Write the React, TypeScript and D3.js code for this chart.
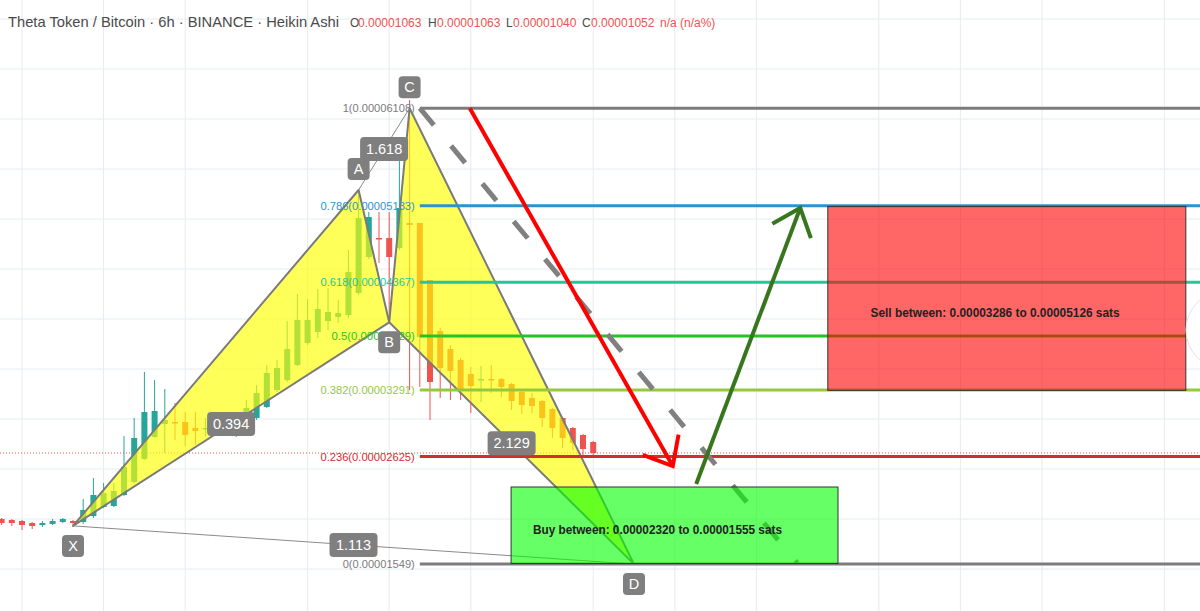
import React from 'react';
import * as d3 from 'd3';

const W = 1200;
const H = 611;

// Heikin Ashi candles, prices in satoshi (1e-8 BTC)
const candleOpen = [2000,1990,1980,1960,1940,1950,1970,1980,1970,2030,2120,2130,2240,2370,2600,2820,2950,2970,2970,2910,2900,2910,2920,2930,2990,3010,3120,3290,3390,3540,3760,3870,3980,4020,4040,4260,4620,4810,4810,4710,4960,4960,4390,3880,3700,3590,3450,3390,3400,3400,3350,3270,3210,3180,3100,3010,2910,2840,2770];
const candleClose = [1960,1960,1940,1930,1960,1980,2000,1960,2090,2240,2260,2280,2520,2810,3070,3080,2990,2960,2840,2880,2910,2930,2950,2990,3110,3260,3460,3510,3700,3990,3990,4100,4070,4060,4470,5010,5020,4800,4620,5110,4940,3820,3370,3510,3480,3290,3330,3400,3390,3320,3180,3140,3130,3010,2910,2810,2760,2700,2660];
const candleHigh = [2010,2000,1990,1970,1980,2000,2010,1990,2200,2410,2360,2360,2830,3010,3470,3390,3300,3160,3070,3070,3010,3020,3040,3070,3190,3340,3540,3590,3980,4250,4200,4300,4310,4190,4690,5270,5070,5070,5070,5690,6190,4960,4390,3910,3740,3610,3520,3530,3540,3410,3360,3280,3260,3190,3110,3020,2920,2850,2780];
const candleLow = [1940,1930,1890,1900,1920,1940,1960,1940,1950,2010,2110,2120,2230,2360,2590,2810,2660,2790,2730,2740,2830,2870,2890,2820,2940,2990,3110,3270,3370,3530,3740,3810,3890,3960,4010,4240,4600,4560,4000,4690,3290,3320,2990,3210,3190,3190,3060,3170,3260,3220,3090,3050,3060,2920,2810,2710,2690,2640,2610];

// grid
const gridTimeIdx = [2, 10, 18, 30, 38, 46, 58, 66, 74, 86, 94, 102, 114];
const gridPrices = [1500, 2000, 2500, 3000, 3500, 4000, 4500, 5000, 5500, 6000, 6500, 7000];
const lastPrice = 2660;

// XABCD pattern
const patternNames = ['X', 'A', 'B', 'C', 'D'];
const patternIdx = [7, 35, 38, 40, 62];
const patternPrice = [1931, 5290, 3967, 6108, 1549];
const patternBelow = [true, false, true, false, true];
const ratioLabels = ['0.394', '1.618', '2.129', '1.113'];
const ratioPairs = [[0, 2], [1, 3], [2, 4], [0, 4]];

// Fibonacci retracement
const fibRatios = ['1', '0.786', '0.618', '0.5', '0.382', '0.236', '0'];
const fibPrices = [6108, 5133, 4367, 3829, 3291, 2625, 1549];
const fibColors = ['#7c7c7c', '#2d93cf', '#26c698', '#25c425', '#95c93a', '#cf2f2f', '#7c7c7c'];
const fibStartIdx = 41;

// drawings: [idx, price]
const dashedLine = [[41, 6108], [78, 1560]];
const redArrow = [[45.9, 6108], [65.8, 2530]];
const greenArrow = [[68.1, 2350], [78.3, 5110]];
const sellBox = [[81, 5126], [116.1, 3286]];
const buyBox = [[49.95, 2320], [82, 1555]];
const sellTextAt = [97.4, 4060];
const buyTextAt = [64.3, 1890];
const sellText = 'Sell between: 0.00003286 to 0.00005126 sats';
const buyText = 'Buy between: 0.00002320 to 0.00001555 sats';

const titleText = 'Theta Token / Bitcoin · 6h · BINANCE · Heikin Ashi';
const ohlcKeys = ['O', 'H', 'L', 'C'];
const ohlcValues = ['0.00001063', '0.00001063', '0.00001040', '0.00001052'];
const changeText = 'n/a (n/a%)';

const x = d3.scaleLinear().domain([0, 1]).range([1.6, 11.8]);
const y = d3.scaleLinear().domain([1500, 7000]).range([569, 19]);

const TEAL = '#26a69a';
const RED = '#ef5350';
const FONT = "'Liberation Sans', Arial, sans-serif";

function arrowHead(p0: number[], p1: number[]) {
  const x0 = x(p0[0]), y0 = y(p0[1]), x1 = x(p1[0]), y1 = y(p1[1]);
  const ang = Math.atan2(y0 - y1, x0 - x1);
  const len = 32;
  const a1 = ang + (40 * Math.PI) / 180;
  const a2 = ang - (40 * Math.PI) / 180;
  return `M${x1 + len * Math.cos(a1)},${y1 + len * Math.sin(a1)} L${x1},${y1} L${x1 + len * Math.cos(a2)},${y1 + len * Math.sin(a2)}`;
}

function Label({ cx, cy, text, w, h }: { cx: number; cy: number; text: string; w: number; h: number }) {
  return (
    <g>
      <rect x={cx - w / 2} y={cy - h / 2} width={w} height={h} rx={4} fill="#7f7f7f" />
      <text x={cx} y={cy + 5} textAnchor="middle" fill="#ffffff" fontSize={14.5} fontFamily={FONT}>{text}</text>
    </g>
  );
}

export default function App() {
  const pts = patternIdx.map((d, i) => [x(d), y(patternPrice[i])]);
  const line = d3.line();
  const triXAB = line([pts[0], pts[1], pts[2]]) + 'Z';
  const triBCD = line([pts[2], pts[3], pts[4]]) + 'Z';

  const ohlcX = [350, 428, 506, 582];
  const ohlcValX = [358, 437, 513, 591];

  return (
    <svg width={W} height={H} style={{ position: 'absolute', left: 0, top: 0, background: '#fff' }}>
      <rect x={0} y={0} width={W} height={H} fill="#ffffff" />
      {/* grid */}
      {gridTimeIdx.map((g) => (
        <line key={'gv' + g} x1={x(g)} x2={x(g)} y1={0} y2={H} stroke="#e6ecf1" strokeWidth={1} />
      ))}
      {gridPrices.map((p) => (
        <line key={'gh' + p} x1={0} x2={W} y1={y(p)} y2={y(p)} stroke="#e6ecf1" strokeWidth={1} />
      ))}
      {/* last price line */}
      <line x1={0} x2={W} y1={y(lastPrice)} y2={y(lastPrice)} stroke={RED} strokeWidth={1} strokeDasharray="1 2" />

      {/* candles */}
      {candleOpen.map((o, i) => {
        const c = candleClose[i];
        const col = c >= o ? TEAL : RED;
        const top = y(Math.max(o, c));
        const bot = y(Math.min(o, c));
        return (
          <g key={'c' + i}>
            <line x1={x(i)} x2={x(i)} y1={y(candleHigh[i])} y2={y(candleLow[i])} stroke={col} strokeWidth={1} />
            <rect x={x(i) - 3} y={top} width={6} height={Math.max(1.5, bot - top)} fill={col} />
          </g>
        );
      })}

      {/* pattern */}
      <path d={triXAB} fill="rgba(255,255,0,0.65)" stroke="#7a7a7a" strokeWidth={2} strokeLinejoin="round" />
      <path d={triBCD} fill="rgba(255,255,0,0.65)" stroke="#7a7a7a" strokeWidth={2} strokeLinejoin="round" />
      <line x1={pts[0][0]} y1={pts[0][1]} x2={pts[4][0]} y2={pts[4][1]} stroke="#8a8a8a" strokeWidth={1} />
      <line x1={pts[1][0]} y1={pts[1][1]} x2={pts[3][0]} y2={pts[3][1]} stroke="#8a8a8a" strokeWidth={1} />

      {/* fib levels */}
      {fibPrices.map((p, i) => (
        <g key={'f' + i}>
          <line x1={x(fibStartIdx)} x2={W} y1={y(p)} y2={y(p)} stroke={fibColors[i]} strokeWidth={3} />
          <text x={x(fibStartIdx) - 5} y={y(p) + 4} textAnchor="end" fill={fibColors[i]} fontSize={11.5} fontFamily={FONT}
            textLength={(fibRatios[i].length + 12) * 5.55} lengthAdjust="spacingAndGlyphs">
            {`${fibRatios[i]}(${(p / 1e8).toFixed(8)})`}
          </text>
        </g>
      ))}

      {/* dashed line */}
      <line x1={x(dashedLine[0][0])} y1={y(dashedLine[0][1])} x2={x(dashedLine[1][0])} y2={y(dashedLine[1][1])}
        stroke="#808080" strokeWidth={5} strokeDasharray="22 27" />

      {/* red arrow */}
      <line x1={x(redArrow[0][0])} y1={y(redArrow[0][1])} x2={x(redArrow[1][0])} y2={y(redArrow[1][1])} stroke="#ff0000" strokeWidth={4} />
      <path d={arrowHead(redArrow[0], redArrow[1])} fill="none" stroke="#ff0000" strokeWidth={4} />
      {/* green arrow */}
      <line x1={x(greenArrow[0][0])} y1={y(greenArrow[0][1])} x2={x(greenArrow[1][0])} y2={y(greenArrow[1][1])} stroke="#38761d" strokeWidth={4} />
      <path d={arrowHead(greenArrow[0], greenArrow[1])} fill="none" stroke="#38761d" strokeWidth={4} />

      {/* sell box */}
      <rect x={x(sellBox[0][0])} y={y(sellBox[0][1])} width={x(sellBox[1][0]) - x(sellBox[0][0])} height={y(sellBox[1][1]) - y(sellBox[0][1])}
        fill="rgba(255,0,0,0.6)" stroke="#333" strokeWidth={1} />
      <text x={x(sellTextAt[0])} y={y(sellTextAt[1]) + 4} textAnchor="middle"
        fontSize={12.5} fontWeight="bold" fontFamily={FONT} fill="#222" textLength={249} lengthAdjust="spacingAndGlyphs">{sellText}</text>
      {/* buy box */}
      <rect x={x(buyBox[0][0])} y={y(buyBox[0][1])} width={x(buyBox[1][0]) - x(buyBox[0][0])} height={y(buyBox[1][1]) - y(buyBox[0][1])}
        fill="rgba(0,255,0,0.6)" stroke="#333" strokeWidth={1} />
      <text x={x(buyTextAt[0])} y={y(buyTextAt[1]) + 4} textAnchor="middle"
        fontSize={12.5} fontWeight="bold" fontFamily={FONT} fill="#222" textLength={249} lengthAdjust="spacingAndGlyphs">{buyText}</text>

      {/* ratio labels */}
      {ratioPairs.map((pr, i) => (
        <Label key={'r' + i} cx={(pts[pr[0]][0] + pts[pr[1]][0]) / 2} cy={(pts[pr[0]][1] + pts[pr[1]][1]) / 2}
          text={ratioLabels[i]} w={48} h={24} />
      ))}
      {/* point labels */}
      {patternNames.map((n, i) => (
        <Label key={'p' + i} cx={pts[i][0]} cy={pts[i][1] + (patternBelow[i] ? 20 : -21)} text={n} w={22} h={22} />
      ))}

      {/* right edge button */}
      <circle cx={1225} cy={330} r={39} fill="#ffffff" stroke="#e3e3e3" strokeWidth={1} />

      {/* header */}
      <text x={8} y={27} fontSize={15} fontFamily={FONT} fill="#4a4a4a" textLength={331} lengthAdjust="spacingAndGlyphs">{titleText}</text>
      {ohlcKeys.map((k, i) => (
        <g key={'o' + k}>
          <text x={ohlcX[i]} y={27} fontSize={12} fontFamily={FONT} fill="#4a4a4a">{k}</text>
          <text x={ohlcValX[i]} y={27} fontSize={12} fontFamily={FONT} fill={RED}>{ohlcValues[i]}</text>
        </g>
      ))}
      <text x={660} y={27} fontSize={12} fontFamily={FONT} fill={RED}>{changeText}</text>
    </svg>
  );
}
